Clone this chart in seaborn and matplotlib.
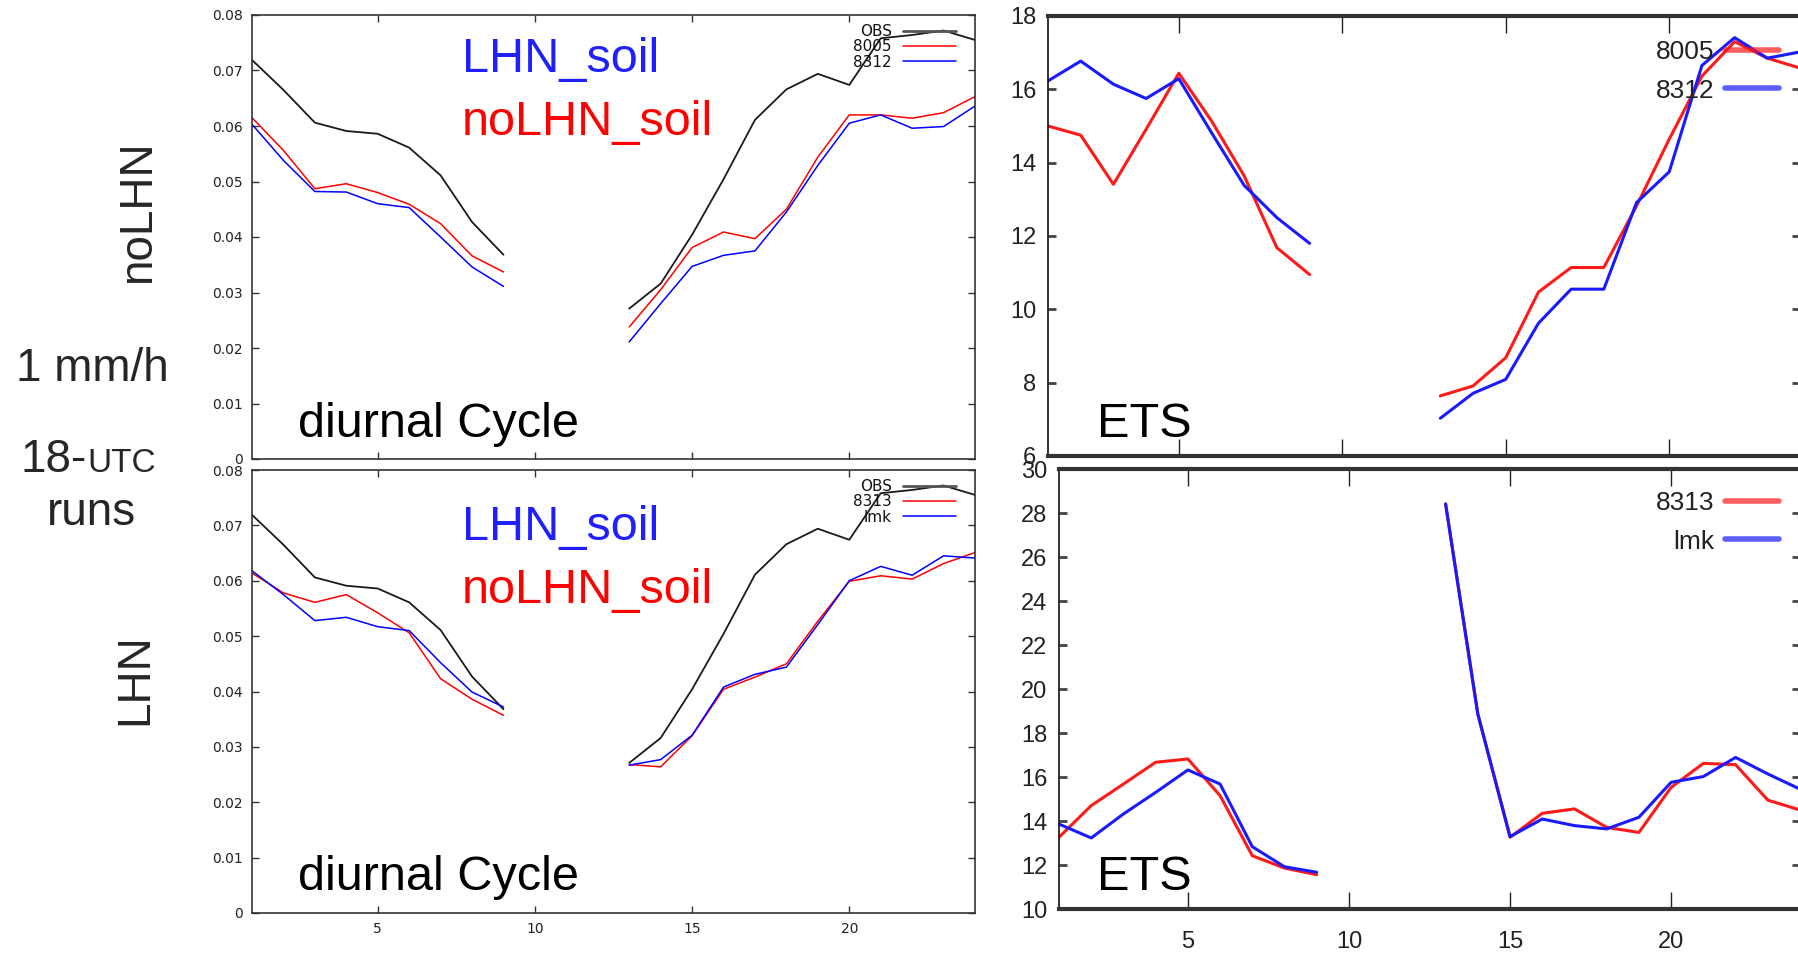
import matplotlib
matplotlib.use("Agg")
import matplotlib.pyplot as plt
import numpy as np
import pandas as pd
import seaborn as sns

# hours of the diurnal cycle (gap between 9 and 13)
hours = [1, 2, 3, 4, 5, 6, 7, 8, 9, 13, 14, 15, 16, 17, 18, 19, 20, 21, 22, 23, 24]

# diurnal cycle of precipitation
obs = [0.0719, 0.0665, 0.0606, 0.0591, 0.0586, 0.0561, 0.0511, 0.0427, 0.0368,
       0.0271, 0.0316, 0.0404, 0.0504, 0.0611, 0.0666, 0.0694, 0.0674, 0.0758, 0.0764, 0.0772, 0.0755]
dc_8005 = [0.0615, 0.0556, 0.0487, 0.0496, 0.0480, 0.0459, 0.0424, 0.0366, 0.0337,
           0.0238, 0.0305, 0.0381, 0.0409, 0.0397, 0.0450, 0.0544, 0.0620, 0.0620, 0.0614, 0.0624, 0.0653]
dc_8312 = [0.0603, 0.0538, 0.0482, 0.0481, 0.0460, 0.0453, 0.0400, 0.0346, 0.0311,
           0.0211, 0.0280, 0.0347, 0.0367, 0.0375, 0.0445, 0.0529, 0.0605, 0.0620, 0.0596, 0.0599, 0.0636]
dc_8313 = [0.0614, 0.0578, 0.0561, 0.0575, 0.0542, 0.0506, 0.0423, 0.0386, 0.0357,
           0.0268, 0.0264, 0.0320, 0.0404, 0.0426, 0.0450, 0.0527, 0.0599, 0.0609, 0.0603, 0.0631, 0.0651]
dc_lmk = [0.0618, 0.0575, 0.0528, 0.0534, 0.0517, 0.0510, 0.0452, 0.0399, 0.0372,
          0.0267, 0.0277, 0.0321, 0.0408, 0.0431, 0.0444, 0.0521, 0.0600, 0.0626, 0.0610, 0.0645, 0.0641]

# ETS scores
ets_8005 = [15.0, 14.75, 13.41, 14.91, 16.44, 15.14, 13.64, 11.68, 10.95,
            7.64, 7.91, 8.68, 10.47, 11.14, 11.14, 12.82, 14.64, 16.36, 17.30, 16.85, 16.58]
ets_8312 = [16.23, 16.77, 16.14, 15.75, 16.29, 14.82, 13.38, 12.50, 11.80,
            7.03, 7.71, 8.09, 9.62, 10.55, 10.55, 12.91, 13.75, 16.65, 17.41, 16.85, 17.02]
ets_8313 = [13.26, 14.70, 15.68, 16.67, 16.82, 15.15, 12.42, 11.86, 11.56,
            28.41, 18.86, 13.26, 14.35, 14.55, 13.71, 13.48, 15.53, 16.62, 16.56, 14.95, 14.50]
ets_lmk = [13.86, 13.23, 14.32, 15.30, 16.32, 15.68, 12.83, 11.92, 11.67,
           28.41, 18.86, 13.29, 14.09, 13.79, 13.64, 14.17, 15.76, 16.02, 16.89, 16.14, 15.45]

x_ticks = [5, 10, 15, 20]
dc_ticks = [0, 0.01, 0.02, 0.03, 0.04, 0.05, 0.06, 0.07, 0.08]
dc_labels = ['0', '0.01', '0.02', '0.03', '0.04', '0.05', '0.06', '0.07', '0.08']
ets_top_ticks = [6, 8, 10, 12, 14, 16, 18]
ets_bot_ticks = [10, 12, 14, 16, 18, 20, 22, 24, 26, 28, 30]

sns.set_style("ticks")
plt.rcParams['font.family'] = ['Liberation Sans', 'DejaVu Sans']
NARROW = ['Liberation Sans Narrow', 'Liberation Sans', 'DejaVu Sans']

W, H = 1798, 956
fig = plt.figure(figsize=(W / 100, H / 100), dpi=100)


def box(l, t, r, b):
    return [l / W, 1 - b / H, (r - l) / W, (b - t) / H]


def draw(ax, y, color, lw):
    df = pd.DataFrame({'hour': hours, 'val': y})
    df['seg'] = (df['hour'] > 9).astype(int)
    sns.lineplot(data=df, x='hour', y='val', units='seg', estimator=None,
                 color=color, lw=lw, ax=ax)
    return ax.lines[-1]


def style_dc(ax, show_x):
    ax.set_xlim(1, 24)
    ax.set_ylim(0, 0.08)
    ax.set_yticks(dc_ticks, labels=dc_labels, fontfamily='DejaVu Sans', fontsize=10, color='#222222')
    ax.set_xticks(x_ticks, labels=[str(t) for t in x_ticks], fontfamily='DejaVu Sans',
                  fontsize=10, color='#222222')
    ax.tick_params(direction='in', top=True, right=True, length=5, width=1, color='#333333',
                   labelbottom=show_x)
    ax.tick_params(axis='y', pad=6.5)
    ax.tick_params(axis='x', pad=6.5)
    for s in ax.spines.values():
        s.set_linewidth(1.2)
        s.set_color('#333333')
    ax.set_xlabel('')
    ax.set_ylabel('')


def style_ets(ax, ylim, yticks, show_x):
    ax.set_xlim(1, 24)
    ax.set_ylim(*ylim)
    ax.set_yticks(yticks, labels=[str(t) for t in yticks], fontfamily=NARROW, fontsize=17, color='#222222')
    ax.set_xticks(x_ticks, labels=[str(t) for t in x_ticks], fontfamily=NARROW, fontsize=17,
                  color='#222222')
    ax.tick_params(axis='x', direction='in', top=True, length=12, width=1, color='#222222',
                   labelbottom=show_x, pad=16)
    ax.tick_params(axis='y', direction='in', right=True, length=6, width=2, color='#444444', pad=8.5)
    ax.spines['top'].set_linewidth(3)
    ax.spines['bottom'].set_linewidth(3)
    ax.spines['top'].set_color('#333333')
    ax.spines['bottom'].set_color('#333333')
    ax.spines['left'].set_linewidth(1.2)
    ax.spines['left'].set_color('#111111')
    ax.spines['right'].set_visible(False)
    ax.set_xlabel('')
    ax.set_ylabel('')


def small_legend(ax, handles, labels, y_top):
    leg = ax.legend(handles, labels, loc='upper right', bbox_to_anchor=(956 / W, 1 - y_top / H),
                    bbox_transform=fig.transFigure, frameon=False, markerfirst=False,
                    borderpad=0, borderaxespad=0, handlelength=3.5, handletextpad=0.7,
                    labelspacing=0.02, prop={'family': 'DejaVu Sans', 'size': 11})
    for t in leg.get_texts():
        t.set_color('#111111')
    leg.get_lines()[0].set_color('#555555')
    leg.get_lines()[0].set_linewidth(2)
    return leg


def big_legend(ax, handles, labels, y_top):
    leg = ax.legend(handles, labels, loc='upper right', bbox_to_anchor=(1779 / W, 1 - y_top / H),
                    bbox_transform=fig.transFigure, frameon=False, markerfirst=False,
                    borderpad=0, borderaxespad=0, handlelength=2.05, handletextpad=0.4,
                    labelspacing=0.55, prop={'family': NARROW, 'size': 19})
    for t in leg.get_texts():
        t.set_color('#222222')
    for ln in leg.get_lines():
        ln.set_linewidth(4)
        ln.set_alpha(0.7)
    return leg


# top-left: diurnal cycle, noLHN
ax1 = fig.add_axes(box(252, 15, 975, 459))
h_obs = draw(ax1, obs, '#1a1a1a', 1.3)
h_a = draw(ax1, dc_8005, '#ff0000', 1.1)
h_b = draw(ax1, dc_8312, '#0000ff', 1.1)
style_dc(ax1, False)
small_legend(ax1, [h_obs, h_a, h_b], ['OBS', '8005', '8312'], 24)

# bottom-left: diurnal cycle, LHN
ax2 = fig.add_axes(box(252, 470, 975, 913))
h_obs = draw(ax2, obs, '#1a1a1a', 1.3)
h_a = draw(ax2, dc_8313, '#ff0000', 1.1)
h_b = draw(ax2, dc_lmk, '#0000ff', 1.1)
style_dc(ax2, True)
small_legend(ax2, [h_obs, h_a, h_b], ['OBS', '8313', 'lmk'], 479)

# top-right: ETS, noLHN
ax3 = fig.add_axes(box(1048, 16, 1800, 456))
h_a = draw(ax3, ets_8005, '#ff1a1a', 2.2)
h_b = draw(ax3, ets_8312, '#1a1aff', 2.2)
style_ets(ax3, (6, 18), ets_top_ticks, False)
big_legend(ax3, [h_a, h_b], ['8005', '8312'], 40)

# bottom-right: ETS, LHN
ax4 = fig.add_axes(box(1059, 469, 1800, 909))
h_a = draw(ax4, ets_8313, '#ff1a1a', 2.2)
h_b = draw(ax4, ets_lmk, '#1a1aff', 2.2)
style_ets(ax4, (10, 30), ets_bot_ticks, True)
big_legend(ax4, [h_a, h_b], ['8313', 'lmk'], 491)


def ftext(x, y, s, **kw):
    fig.text(x / W, 1 - y / H, s, **kw)


# panel annotations (baselines in pixels)
for lhn_y, nolhn_y, label_y in ((72, 135, 437), (540, 603, 890)):
    ftext(462, lhn_y, 'LHN_soil', color='#2020ff', fontsize=35, va='baseline')
    ftext(462, nolhn_y, 'noLHN_soil', color='#ff0000', fontsize=35, va='baseline')
    ftext(298, label_y, 'diurnal Cycle', color='black', fontsize=35, va='baseline')
    ftext(1097, label_y, 'ETS', color='black', fontsize=35, va='baseline')

# row / case labels on the left
ftext(138, 212, 'noLHN', fontsize=33, rotation=90, ha='center', va='center')
ftext(92, 369, '1 mm/h', fontsize=33, ha='center', va='center')
ftext(87, 472, '18-', fontsize=33, ha='right', va='baseline')
ftext(87, 472, 'UTC', fontsize=24, ha='left', va='baseline')
ftext(91, 513, 'runs', fontsize=33, ha='center', va='center')
ftext(135, 679, 'LHN', fontsize=33, rotation=90, ha='center', va='center')

fig.savefig('out.png', dpi=100)
